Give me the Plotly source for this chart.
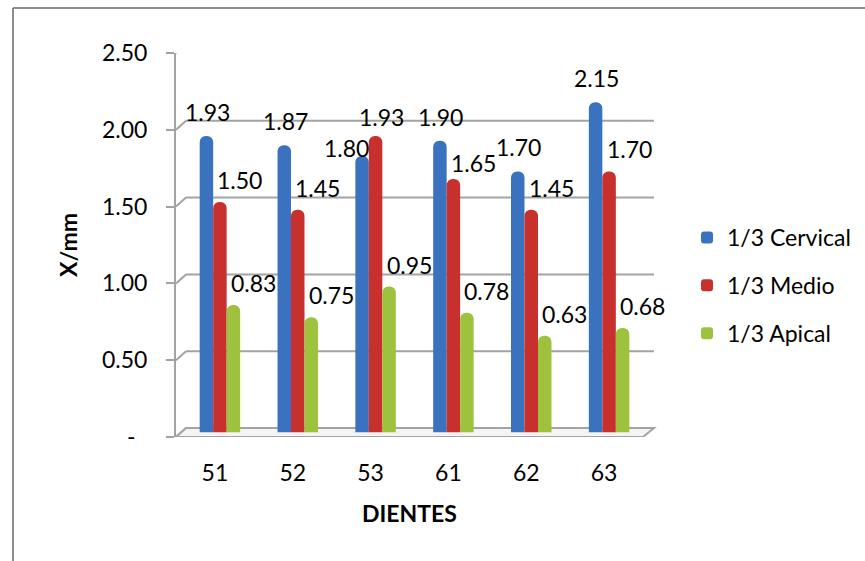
import plotly.graph_objects as go

# ---------------- data ----------------
dientes = ["51", "52", "53", "61", "62", "63"]
cervical = [1.93, 1.87, 1.80, 1.90, 1.70, 2.15]
medio = [1.50, 1.45, 1.93, 1.65, 1.45, 1.70]
apical = [0.83, 0.75, 0.95, 0.78, 0.63, 0.68]
series_names = ["1/3 Cervical", "1/3 Medio", "1/3 Apical"]
y_ticks = [0, 0.5, 1.0, 1.5, 2.0, 2.5]
y_ticktext = ["-\u00a0\u00a0", "0.50", "1.00", "1.50", "2.00", "2.50"]

# ---------------- styles / geometry ----------------
W, H = 865, 561
FONT = "Lato, Carlito, Calibri, sans-serif"
GRID = "#a3a3a3"
colors = ["#3A72C0", "#C7302C", "#9CC23E"]
label_dx = [1, 20, 20]      # per-series label nudge (px)
label_dy = [24, 22, 22]
label_override = {(0, 2): (-16, 8), (1, 2): (6, 19), (1, 3): (20, 16)}


def px(p):
    return p / W


def py(p):
    return 1 - p / H


front_x = (176, 643)
front_y0, front_y1 = 437, 53          # pixel rows of 0 and 2.5
bar_x = (181, 648)
bar_y0, bar_y1 = 432.5, 48.5
back_x = (186, 654)
depth_dy = 9                           # px the back wall is raised
unit_px = (front_y0 - front_y1) / 2.5
off = depth_dy / unit_px               # in data units
bar_dx = bar_x[0] - front_x[0]
bar_dy = front_y0 - bar_y0

fig = go.Figure()
all_vals = [cervical, medio, apical]
for i, (name, vals) in enumerate(zip(series_names, all_vals)):
    fig.add_trace(go.Bar(
        x=dientes, y=vals, name=name, xaxis="x2", yaxis="y2",
        marker=dict(color=colors[i], line=dict(width=0), cornerradius=7),
        legendgroup=name, hoverinfo="skip",
    ))

# data labels (positioned on the front axes, shifted into the bar plane)
for i, vals in enumerate(all_vals):
    for j, v in enumerate(vals):
        dx, dy = label_override.get((i, j), (label_dx[i], label_dy[i]))
        fig.add_annotation(
            x=j, y=v, xref="x", yref="y", text=f"{v:.2f}",
            showarrow=False,
            xshift=(i - 1) * 13.5 + bar_dx + dx, yshift=dy + bar_dy,
            font=dict(family=FONT, size=23, color="black"),
        )

shapes = []
# back wall gridlines and depth connectors
for v in y_ticks:
    if v > 0:
        shapes.append(dict(type="line", xref="paper", yref="y", layer="below",
                           x0=px(back_x[0]), x1=px(back_x[1]), y0=v + off, y1=v + off,
                           line=dict(color=GRID, width=2)))
    shapes.append(dict(type="line", xref="paper", yref="y", layer="below",
                       x0=px(front_x[0]), x1=px(back_x[0]), y0=v, y1=v + off,
                       line=dict(color=GRID, width=2)))
# floor
floor_path = (f"M {px(front_x[0])},0 L {px(front_x[1])},0 "
              f"L {px(back_x[1])},{off} L {px(back_x[0])},{off} Z")
shapes.append(dict(type="path", xref="paper", yref="y", layer="below",
                   path=floor_path, fillcolor="#f4f4f4",
                   line=dict(color=GRID, width=2)))
# outer chart frame (top and left visible)
shapes.append(dict(type="line", xref="paper", yref="paper",
                   x0=px(13), x1=1.02, y0=py(8), y1=py(8),
                   line=dict(color="#8c8c8c", width=2)))
shapes.append(dict(type="line", xref="paper", yref="paper",
                   x0=px(13), x1=px(13), y0=py(8), y1=-0.02,
                   line=dict(color="#8c8c8c", width=2)))

blank_axis = dict(showline=False, showgrid=False, zeroline=False, ticks="",
                  showticklabels=False, automargin=False)

fig.update_layout(
    width=W, height=H,
    margin=dict(l=0, r=0, t=0, b=0, pad=0, autoexpand=False),
    paper_bgcolor="white", plot_bgcolor="rgba(0,0,0,0)",
    font=dict(family=FONT, size=23, color="black"),
    barmode="group", bargap=0.48, bargroupgap=0,
    showlegend=True,
    legend=dict(x=px(687), y=py(216), xanchor="left", yanchor="top",
                font=dict(family=FONT, size=23, color="black"),
                tracegroupgap=15, bgcolor="rgba(0,0,0,0)"),
    xaxis=dict(domain=[px(front_x[0]), px(front_x[1])], anchor="y",
               type="linear", range=[-0.5, 5.5],
               tickvals=list(range(len(dientes))), ticktext=dientes,
               showline=False, showgrid=False, zeroline=False, ticks="",
               ticklabelstandoff=20, automargin=False,
               tickfont=dict(family=FONT, size=23),
               title=dict(text="<b>DIENTES</b>", standoff=20,
                          font=dict(family=FONT, size=23))),
    yaxis=dict(domain=[py(front_y0), py(front_y1)], anchor="x",
               range=[0, 2.5], tickvals=y_ticks, ticktext=y_ticktext,
               showline=True, linecolor=GRID, linewidth=2,
               ticks="outside", ticklen=8, tickwidth=2, tickcolor=GRID,
               showgrid=False, zeroline=False, ticklabelstandoff=14,
               automargin=False,
               tickfont=dict(family=FONT, size=23),
               title=dict(text="<b>X/mm</b>", standoff=18,
                          font=dict(family=FONT, size=23))),
    xaxis2=dict(domain=[px(bar_x[0]), px(bar_x[1])], anchor="y2",
                type="category", categoryarray=dientes, range=[-0.5, 5.5],
                **blank_axis),
    yaxis2=dict(domain=[py(bar_y0), py(bar_y1)], anchor="x2",
                range=[0, 2.5], **blank_axis),
    shapes=shapes,
)

fig.write_html("out.html")
